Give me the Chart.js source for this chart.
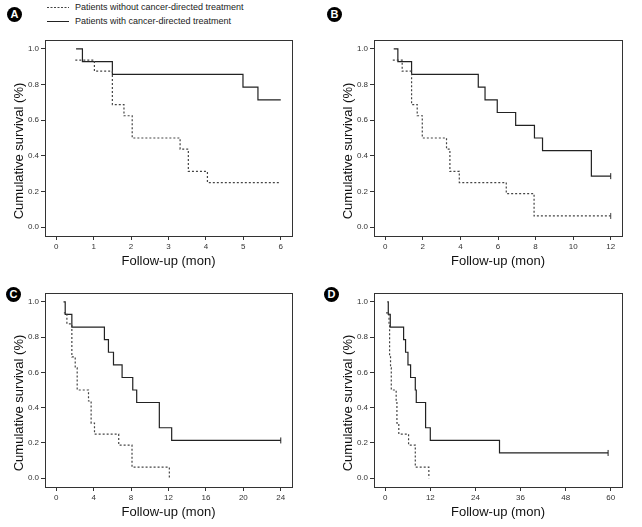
<!DOCTYPE html>
<html>
<head>
<meta charset="utf-8">
<script src="https://cdn.jsdelivr.net/npm/chart.js@4.4.1/dist/chart.umd.min.js"></script>
<style>
  html, body { margin: 0; padding: 0; background: #fff; }
  body { width: 642px; height: 527px; position: relative; overflow: hidden; font-family: "Liberation Sans", Arial, sans-serif; }
  canvas { position: absolute; }
  .tag { position: absolute; width: 15px; height: 15px; border-radius: 50%; background: #000; color: #fff;
         font: bold 11px "Liberation Sans", Arial, sans-serif; text-align: center; line-height: 15px; }
  .leg { position: absolute; left: 47px; font-size: 9px; color: #222; white-space: nowrap; }
  .leg svg { position: absolute; left: 0; top: 5px; }
  .leg span { position: absolute; left: 28px; top: 0; line-height: 12px; }
</style>
</head>
<body>

<div class="leg" style="top:1px"><svg width="22" height="3"><line x1="0" y1="1.5" x2="22" y2="1.5" stroke="#444" stroke-width="1" stroke-dasharray="2 1.5"/></svg><span>Patients without cancer-directed treatment</span></div>
<div class="leg" style="top:15px"><svg width="22" height="3"><line x1="0" y1="1.5" x2="22" y2="1.5" stroke="#222" stroke-width="1"/></svg><span>Patients with cancer-directed treatment</span></div>

<div class="tag" style="left:7px;top:7px">A</div>
<div class="tag" style="left:327px;top:7px">B</div>
<div class="tag" style="left:6px;top:287px">C</div>
<div class="tag" style="left:324px;top:287px">D</div>

<canvas id="chartA"></canvas>
<canvas id="chartB"></canvas>
<canvas id="chartC"></canvas>
<canvas id="chartD"></canvas>

<script>
// shared y axis
const yTicks = [0, 0.2, 0.4, 0.6, 0.8, 1.0];

// A: first 6 months
const aTicks = [0, 1, 2, 3, 4, 5, 6];
const aWithT = [0.53, 0.70, 1.50, 4.99, 5.39, 6.0];
const aWithS = [1.0, 0.929, 0.857, 0.786, 0.714, 0.714];
const aWithoutT = [0.51, 1.02, 1.50, 1.81, 2.03, 3.31, 3.53, 4.04, 6.0];
const aWithoutS = [0.9375, 0.875, 0.6875, 0.625, 0.5, 0.4375, 0.3125, 0.25, 0.25];

// B: 12 months
const bTicks = [0, 2, 4, 6, 8, 10, 12];
const bWithT = [0.45, 0.67, 1.40, 4.95, 5.31, 5.96, 6.94, 7.94, 8.37, 10.97, 12.0];
const bWithS = [1.0, 0.929, 0.857, 0.786, 0.714, 0.643, 0.571, 0.5, 0.429, 0.286, 0.286];
const bWithoutT = [0.40, 0.90, 1.40, 1.70, 1.97, 3.26, 3.44, 3.94, 6.44, 7.92, 12.0];
const bWithoutS = [0.9375, 0.875, 0.6875, 0.625, 0.5, 0.4375, 0.3125, 0.25, 0.1875, 0.0625, 0.0625];

// C: 24 months
const cTicks = [0, 4, 8, 12, 16, 20, 24];
const cWithT = [0.78, 0.96, 1.67, 5.15, 5.58, 6.12, 7.04, 8.18, 8.6, 11.02, 12.34, 24.0];
const cWithS = [1.0, 0.929, 0.857, 0.786, 0.714, 0.643, 0.571, 0.5, 0.429, 0.286, 0.214, 0.214];
const cWithoutT = [0.82, 1.14, 1.67, 2.03, 2.24, 3.45, 3.73, 4.09, 6.68, 8.1, 12.09];
const cWithoutS = [0.9375, 0.875, 0.6875, 0.625, 0.5, 0.4375, 0.3125, 0.25, 0.1875, 0.0625, 0];

// D: whole follow-up
const dTicks = [0, 12, 24, 36, 48, 60];
const dWithT = [0.53, 0.8, 1.33, 4.88, 5.4, 6.04, 6.74, 7.99, 8.25, 10.73, 11.98, 30.4, 59.3];
const dWithS = [1.0, 0.929, 0.857, 0.786, 0.714, 0.643, 0.571, 0.5, 0.429, 0.286, 0.214, 0.143, 0.143];
const dWithoutT = [0.2, 1.0, 1.15, 1.4, 1.6, 2.9, 3.1, 3.6, 6.2, 7.99, 11.6];
const dWithoutS = [0.9375, 0.875, 0.6875, 0.625, 0.5, 0.4375, 0.3125, 0.25, 0.1875, 0.0625, 0];

Chart.defaults.font.family = '"Liberation Sans", Arial, sans-serif';

const framePlugin = {
    id: 'frame',
    afterDatasetsDraw(chart) {
        const { ctx, chartArea: a } = chart;
        ctx.save();
        ctx.strokeStyle = '#333';
        ctx.lineWidth = 1;
        ctx.strokeRect(Math.round(a.left) + 0.5, Math.round(a.top) + 0.5, Math.round(a.width), Math.round(a.height));
        ctx.restore();
    }
};

const yTitlePlugin = {
    id: 'ytitle',
    afterDraw(chart) {
        const { ctx, chartArea: a } = chart;
        ctx.save();
        ctx.translate(a.left - 26, (a.top + a.bottom) / 2 + 13);
        ctx.rotate(-Math.PI / 2);
        ctx.font = '13px "Liberation Sans", Arial, sans-serif';
        ctx.fillStyle = '#111';
        ctx.textAlign = 'center';
        ctx.textBaseline = 'middle';
        ctx.fillText('Cumulative survival (%)', 0, 0);
        ctx.restore();
    }
};

function series(label, t, s, dotted, censored) {
    return {
        label: label,
        data: t.map((x, i) => ({ x: x, y: s[i] })),
        stepped: 'before',
        borderColor: dotted ? '#444' : '#222',
        borderWidth: 1.2,
        borderDash: dotted ? [2, 2] : [],
        fill: false,
        pointStyle: 'line',
        rotation: 90,
        pointBorderColor: dotted ? '#444' : '#222',
        pointBorderWidth: 1,
        pointRadius: c => (censored && c.dataIndex === t.length - 1) ? 3 : 0
    };
}

// censor: [without, with] -> draw a censoring tick at the last point
function makeChart(id, frame, xMax, xTicks, withT, withS, withoutT, withoutS, censor) {
    const el = document.getElementById(id);
    el.width = frame.r - frame.l + 63;
    el.height = frame.b - frame.t + 48;
    el.style.left = (frame.l - 45) + 'px';
    el.style.top = (frame.t - 10) + 'px';
    const pad = xMax * 0.05;
    new Chart(el, {
        type: 'line',
        data: {
            datasets: [
                series('Patients without cancer-directed treatment', withoutT, withoutS, true, censor[0]),
                series('Patients with cancer-directed treatment', withT, withS, false, censor[1])
            ]
        },
        options: {
            responsive: false,
            animation: false,
            layout: { padding: { top: 10, right: 18, left: 0, bottom: 0 } },
            plugins: { legend: { display: false }, tooltip: { enabled: false } },
            scales: {
                x: {
                    type: 'linear',
                    min: -pad,
                    max: xMax + pad,
                    afterBuildTicks: sc => { sc.ticks = xTicks.map(v => ({ value: v })); },
                    afterFit: sc => { sc.height = 38; },
                    border: { display: false },
                    grid: { drawOnChartArea: false, tickLength: 4, color: '#333' },
                    ticks: { padding: 2, color: '#333', font: { size: 8 }, maxRotation: 0, autoSkip: false },
                    title: { display: true, text: 'Follow-up (mon)', color: '#111', font: { size: 13 }, padding: { top: 0, bottom: 5 } }
                },
                y: {
                    min: -0.05,
                    max: 1.05,
                    afterBuildTicks: sc => { sc.ticks = yTicks.map(v => ({ value: v })); },
                    afterFit: sc => { sc.width = 45; },
                    border: { display: false },
                    grid: { drawOnChartArea: false, tickLength: 4, color: '#333' },
                    ticks: { padding: 2, color: '#333', font: { size: 8 }, callback: v => v.toFixed(1) }
                }
            }
        },
        plugins: [framePlugin, yTitlePlugin]
    });
}

makeChart('chartA', { l: 45, t: 40, r: 292, b: 236 }, 6, aTicks, aWithT, aWithS, aWithoutT, aWithoutS, [false, false]);
makeChart('chartB', { l: 374, t: 40, r: 622, b: 236 }, 12, bTicks, bWithT, bWithS, bWithoutT, bWithoutS, [true, true]);
makeChart('chartC', { l: 45, t: 293, r: 292, b: 487 }, 24, cTicks, cWithT, cWithS, cWithoutT, cWithoutS, [false, true]);
makeChart('chartD', { l: 374, t: 293, r: 622, b: 487 }, 60, dTicks, dWithT, dWithS, dWithoutT, dWithoutS, [false, true]);
</script>
</body>
</html>
